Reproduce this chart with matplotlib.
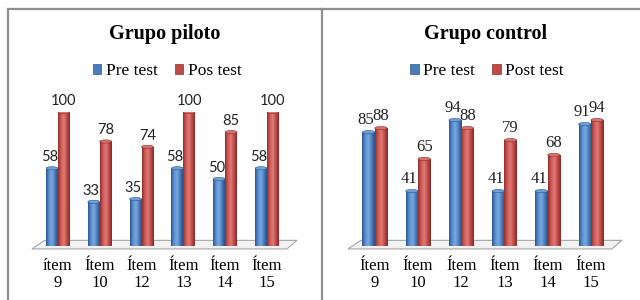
import numpy as np
import matplotlib
matplotlib.use('Agg')
import matplotlib.pyplot as plt
from matplotlib.patches import Polygon, Ellipse, Patch
from matplotlib.lines import Line2D
from matplotlib.colors import LinearSegmentedColormap

##### data
items_left = ['ítem\n9', 'Ítem\n10', 'Ítem\n12', 'Ítem\n13', 'Ítem\n14', 'Ítem\n15']
items_right = ['Ítem\n9', 'Ítem\n10', 'Ítem\n12', 'Ítem\n13', 'Ítem\n14', 'Ítem\n15']
piloto_pre = [58, 33, 35, 58, 50, 58]
piloto_pos = [100, 78, 74, 100, 85, 100]
control_pre = [85, 41, 94, 41, 41, 91]
control_post = [88, 65, 88, 79, 68, 94]

BLUE = '#4a7ebb'
RED = '#be4b48'
serif = 'Liberation Serif'

cm_blue = LinearSegmentedColormap.from_list('b', ['#2c5590', '#5b8fd0', '#7aa8e0', '#4a7ebb', '#2a4f85'])
cm_red = LinearSegmentedColormap.from_list('r', ['#8e2f2c', '#cf5b57', '#e07a75', '#be4b48', '#852a28'])


def cylinder_bars(ax, x, vals, color, cmap, w):
    bars = ax.bar(x, vals, width=w, color=color, zorder=3)
    grad = np.linspace(0, 1, 64).reshape(1, -1)
    for b in bars:
        x0, w0, h0 = b.get_x(), b.get_width(), b.get_height()
        im = ax.imshow(grad, cmap=cmap, aspect='auto', zorder=4,
                       extent=[x0, x0 + w0, 0, h0])
        im.set_clip_path(b)
        top = Ellipse((x0 + w0 / 2, h0), w0, 2.4, facecolor=cmap(0.55),
                      edgecolor=cmap(0.0), lw=0.4, zorder=5)
        ax.add_patch(top)
    return bars


def panel(rect, labels, pre, post, title, leg, title_x, lab_font, lab_size):
    ax = fig.add_axes(rect)
    x = np.arange(len(labels))
    w = 0.285
    # floor
    floor = Polygon([(-0.62, -2.2), (5.48, -2.2), (5.72, 4.2), (-0.32, 4.2)],
                    closed=True, facecolor='#f2f2f2', edgecolor='#a6a6a6',
                    lw=0.8, zorder=1, clip_on=False)
    ax.add_patch(floor)
    cylinder_bars(ax, x - w / 2, pre, BLUE, cm_blue, w)
    cylinder_bars(ax, x + w / 2, post, RED, cm_red, w)
    for xi, v in zip(x - w / 2, pre):
        ax.text(xi - 0.06, v + 3, str(v), ha='center', va='bottom',
                family=lab_font, fontsize=lab_size, color='#222222', zorder=6)
    for xi, v in zip(x + w / 2, post):
        ax.text(xi, v + 3, str(v), ha='center', va='bottom',
                family=lab_font, fontsize=lab_size, color='#222222', zorder=6)
    ax.set_xlim(-0.62, 5.72)
    ax.set_ylim(0, 100)
    ax.set_xticks(x)
    ax.set_xticklabels(labels, family=serif, fontsize=12, linespacing=1.05)
    ax.tick_params(axis='x', length=0, pad=9)
    ax.set_yticks([])
    for s in ax.spines.values():
        s.set_visible(False)
    ax.patch.set_alpha(0)
    fig.text(title_x, 0.885, title, ha='center', va='center', family=serif,
             fontsize=14.5, fontweight='bold')
    handles = [Patch(facecolor=BLUE, edgecolor='#2c5590', lw=0.5),
               Patch(facecolor=RED, edgecolor='#8e2f2c', lw=0.5)]
    fig.legend(handles, leg, loc='center', bbox_to_anchor=(title_x + 0.003, 0.763),
               ncol=2, frameon=False, prop={'family': serif, 'size': 12.5},
               handlelength=0.5, handleheight=0.5, handletextpad=0.25,
               columnspacing=1.0, borderaxespad=0)
    return ax


fig = plt.figure(figsize=(6.4, 3.0), dpi=100)
fig.patch.set_facecolor('white')

# panel frames
fig.add_artist(Line2D([8 / 640, 1], [1 - 9 / 300] * 2, color='#8f8f8f', lw=1.6))
fig.add_artist(Line2D([8 / 640] * 2, [0, 1 - 9 / 300], color='#8f8f8f', lw=1.6))
fig.add_artist(Line2D([322 / 640] * 2, [0, 1 - 9 / 300], color='#8f8f8f', lw=1.6))

panel([32 / 640, 54 / 300, 265 / 640, 134 / 300], items_left, piloto_pre, piloto_pos,
      'Grupo piloto', ['Pre test', 'Pos test'], 0.258, 'Lato', 10.5)
panel([348 / 640, 54 / 300, 274 / 640, 134 / 300], items_right, control_pre, control_post,
      'Grupo control', ['Pre test', 'Post test'], 0.758, serif, 12)

fig.savefig('out.png', dpi=100)
